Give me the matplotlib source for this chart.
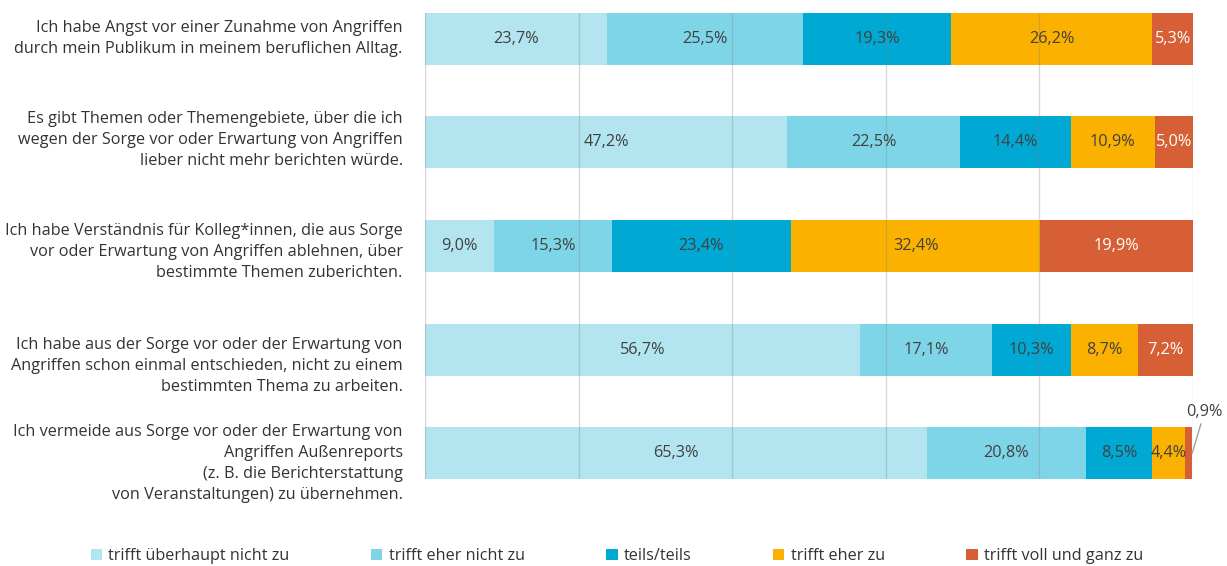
import matplotlib
matplotlib.use("Agg")
import matplotlib.pyplot as plt
import numpy as np

plt.rcParams['font.family'] = ['Open Sans', 'DejaVu Sans']

categories = [
    "Ich habe Angst vor einer Zunahme von Angriffen\ndurch mein Publikum in meinem beruflichen Alltag.",
    "Es gibt Themen oder Themengebiete, über die ich\nwegen der Sorge vor oder Erwartung von Angriffen\nlieber nicht mehr berichten würde.",
    "Ich habe Verständnis für Kolleg*innen, die aus Sorge\nvor oder Erwartung von Angriffen ablehnen, über\nbestimmte Themen zuberichten.",
    "Ich habe aus der Sorge vor oder der Erwartung von\nAngriffen schon einmal entschieden, nicht zu einem\nbestimmten Thema zu arbeiten.",
    "Ich vermeide aus Sorge vor oder der Erwartung von\nAngriffen Außenreports\n(z. B. die Berichterstattung\nvon Veranstaltungen) zu übernehmen.",
]
series_names = ["trifft überhaupt nicht zu", "trifft eher nicht zu", "teils/teils",
                "trifft eher zu", "trifft voll und ganz zu"]
ueberhaupt_nicht = [23.7, 47.2, 9.0, 56.7, 65.3]
eher_nicht = [25.5, 22.5, 15.3, 17.1, 20.8]
teils = [19.3, 14.4, 23.4, 10.3, 8.5]
eher_zu = [26.2, 10.9, 32.4, 8.7, 4.4]
voll_zu = [5.3, 5.0, 19.9, 7.2, 0.9]

series = [ueberhaupt_nicht, eher_nicht, teils, eher_zu, voll_zu]
colors = ["#b2e5f0", "#7fd5e8", "#00a9d3", "#fbb100", "#d65f35"]
text_colors = ["#404040", "#404040", "#404040", "#404040", "#ffffff"]

fig = plt.figure(figsize=(12.27, 5.66), dpi=100)
ax = fig.add_axes([425/1227, 1-479/566, (1193-425)/1227, (479-13)/566])

y = np.arange(len(categories))
left = np.zeros(len(categories))
for s, name, col, tc in zip(series, series_names, colors, text_colors):
    vals = np.array(s)
    ax.barh(y, vals, left=left, height=0.502, color=col, label=name, zorder=1)
    for yi, l, v in zip(y, left, vals):
        lbl = f"{v:.1f}%".replace(".", ",")
        if v < 2:
            ax.annotate(lbl, xy=(l + v, yi), xytext=(l + v + 1.6, yi - 0.40),
                        ha='center', va='center', fontsize=11.7, color="#404040",
                        arrowprops=dict(arrowstyle='-', color='#a0a0a0', lw=1,
                                        shrinkA=1, shrinkB=0))
        else:
            ax.text(l + v / 2, yi, lbl, ha='center', va='center',
                    fontsize=11.7, color=tc, zorder=3)
    left += vals

ax.set_xlim(0, 100)
ax.set_ylim(4.25, -0.25)

for gx in [0, 20, 40, 60, 80, 100]:
    ax.axvline(gx, color='#808080', alpha=0.3, lw=1, zorder=2)

for sp in ax.spines.values():
    sp.set_visible(False)
ax.set_xticks([])
ax.set_yticks([])

label_offsets_px = [0, -2, 6, 16, 10]
for yi, cat, off in zip(y, categories, label_offsets_px):
    ax.annotate(cat, xy=(0, yi), xycoords='data', xytext=(-16, -off * 0.72),
                textcoords='offset points', ha='right', va='center',
                fontsize=11.7, color='#333333', linespacing=1.42)

fig.legend(loc='center', bbox_to_anchor=(617/1227, 1-556/566), ncol=5,
           frameon=False, fontsize=11.7, handlelength=0.7, handleheight=0.7,
           handletextpad=0.4, columnspacing=5.0, labelcolor='#333333')

fig.savefig("out.png", dpi=100)
